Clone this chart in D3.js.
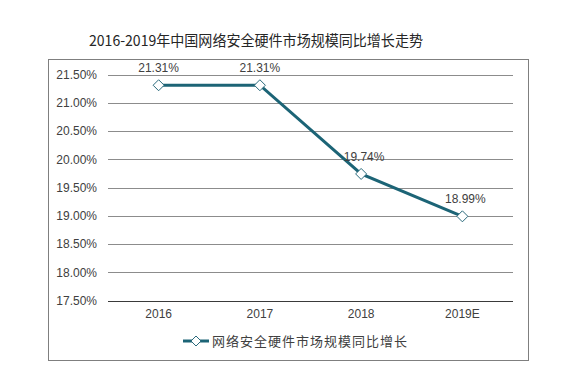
<!DOCTYPE html>
<html><head><meta charset="utf-8">
<script src="https://cdn.jsdelivr.net/npm/d3@7"></script>
<style>body{margin:0;background:#fff}</style>
</head><body>
<svg id="c" width="587" height="380"></svg>
<script>
const title = "2016-2019年中国网络安全硬件市场规模同比增长走势";
const seriesName = "网络安全硬件市场规模同比增长";
const categories = ["2016","2017","2018","2019E"];
const values = [21.31, 21.31, 19.74, 18.99];
const yTicks = [17.5,18,18.5,19,19.5,20,20.5,21,21.5];

const svg = d3.select("#c");
const W=587,H=380;
svg.append("rect").attr("width",W).attr("height",H).attr("fill","#fff");
// frame
svg.append("rect").attr("x",48.5).attr("y",59.5).attr("width",480).attr("height",301)
  .attr("fill","none").attr("stroke","#7f7f7f").attr("stroke-width",1);

svg.append("text").attr("x",256).attr("y",46).attr("text-anchor","middle")
  .attr("font-family","'Noto Sans CJK SC', sans-serif").attr("font-size",15).attr("fill","#262626")
  .attr("textLength",334).attr("lengthAdjust","spacingAndGlyphs")
  .text(title);

const x = d3.scaleBand().domain(categories).range([108,513]);
const y = d3.scaleLinear().domain([17.5,21.5]).range([300.5,74.5]);

const grid = svg.append("g");
yTicks.forEach(t=>{
  grid.append("line").attr("x1",108).attr("x2",513).attr("y1",Math.round(y(t))+0.5).attr("y2",Math.round(y(t))+0.5)
    .attr("stroke", t===17.5 ? "#3a3a3a":"#8c8c8c").attr("stroke-width",1);
});

const yAxis = d3.axisLeft(y).tickValues(yTicks).tickSize(0).tickPadding(11).tickFormat(d=>d.toFixed(2)+"%");
const ga = svg.append("g").attr("transform","translate(108,0)").call(yAxis);
ga.select(".domain").remove();
ga.selectAll("text").attr("font-family","'Liberation Sans', Arial, sans-serif").attr("font-size",12).attr("fill","#404040");

const xAxis = d3.axisBottom(x).tickSize(0).tickPadding(8);
const gx = svg.append("g").attr("transform","translate(0,301)").call(xAxis);
gx.select(".domain").remove();
gx.selectAll("text").attr("font-family","'Liberation Sans', Arial, sans-serif").attr("font-size",12).attr("fill","#404040");

const col = "#1c6476";
const line = d3.line().x((d,i)=>x(categories[i])+x.bandwidth()/2).y(d=>y(d));
svg.append("path").datum(values).attr("d",line).attr("fill","none").attr("stroke",col).attr("stroke-width",3);

const diamond = (cx,cy,r)=>`M${cx},${cy-r}L${cx+r},${cy}L${cx},${cy+r}L${cx-r},${cy}Z`;
values.forEach((v,i)=>{
  const cx = x(categories[i])+x.bandwidth()/2, cy=y(v);
  svg.append("path").attr("d",diamond(cx,cy,5.5)).attr("fill","#fff").attr("stroke","#2a6a7c").attr("stroke-width",1);
  svg.append("text").attr("x",cx+(i>=2?3:0)).attr("y",cy-13).attr("text-anchor","middle")
    .attr("font-family","'Liberation Sans', Arial, sans-serif").attr("font-size",12).attr("fill","#404040")
    .text(v.toFixed(2)+"%");
});

// legend
const lg = svg.append("g");
lg.append("line").attr("x1",183).attr("x2",209).attr("y1",341).attr("y2",341).attr("stroke",col).attr("stroke-width",3);
lg.append("path").attr("d",diamond(196,341,5)).attr("fill","#fff").attr("stroke","#2a6a7c").attr("stroke-width",1);
lg.append("text").attr("x",212).attr("y",346).attr("font-family","'Noto Sans CJK SC', sans-serif")
  .attr("font-size",13).attr("letter-spacing",1).attr("fill","#404040").text(seriesName);
</script>
</body></html>
